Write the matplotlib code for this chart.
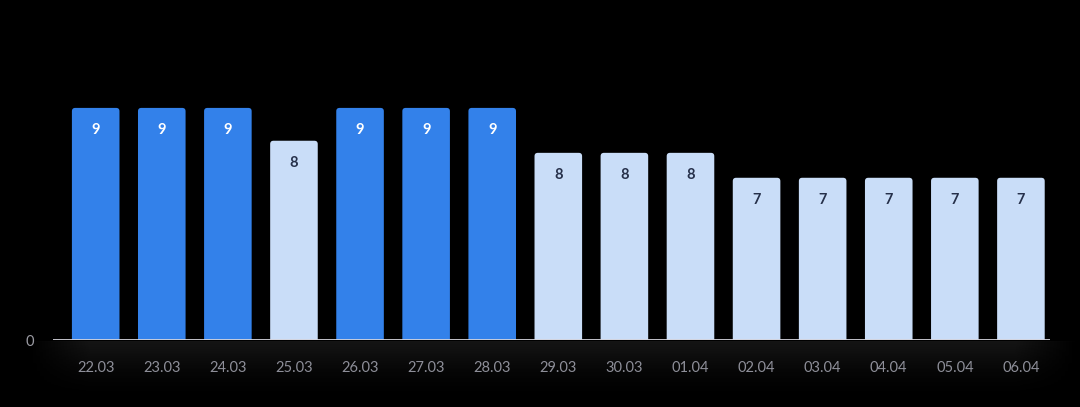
import numpy as np
import matplotlib.pyplot as plt
from matplotlib.patches import FancyBboxPatch

# data
days = ["22.03", "23.03", "24.03", "25.03", "26.03", "27.03", "28.03",
        "29.03", "30.03", "01.04", "02.04", "03.04", "04.04", "05.04", "06.04"]
values = [9.4, 9.4, 9.4, 8.07, 9.4, 9.4, 9.4,
          7.58, 7.58, 7.58, 6.57, 6.57, 6.57, 6.57, 6.57]
highlight = [True, True, True, False, True, True, True,
             False, False, False, False, False, False, False, False]

blue = "#3381ea"
light = "#c9ddf8"
W, H = 1080, 407

plt.rcParams["font.family"] = ["Lato", "DejaVu Sans"]

fig = plt.figure(figsize=(W / 100, H / 100), dpi=100, facecolor="black")

# soft dark band under the baseline
bg = fig.add_axes([0, 0, 1, 1], zorder=0)
bg.set_axis_off()
bg.set_xlim(0, W)
bg.set_ylim(H, 0)
vert = np.linspace(1, 0, 60) ** 1.5
horiz = np.clip(np.minimum(np.linspace(0, 1, 300) / 0.06, np.linspace(1, 0, 300) / 0.06), 0, 1)
grad = vert[:, None] * horiz[None, :]
bg.imshow(grad, extent=[25, 1080, 400, 341], cmap="Greys_r", vmin=0, vmax=14,
          aspect="auto", interpolation="bilinear")

left, right, base = 53, 1050, 340
ax = fig.add_axes([left / W, (H - base) / H, (right - left) / W, base / H], zorder=1)
ax.set_facecolor("none")
for s in ax.spines.values():
    s.set_visible(False)

x = np.arange(len(days))
ax.set_xlim(-0.646, 14.44)
ax.set_ylim(0, 13.77)

colors = [blue if h else light for h in highlight]
bars = ax.bar(x, values, width=0.72, color=colors)

# rounded tops
yx = (13.77 / base) / (15.086 / (right - left))
for b, c in zip(bars, colors):
    bx, by = b.get_x(), b.get_y()
    bw, bh = b.get_width(), b.get_height()
    b.set_visible(False)
    p = FancyBboxPatch((bx, by - 0.3), bw, bh + 0.3,
                       boxstyle="round,pad=0,rounding_size=0.05",
                       mutation_aspect=yx, fc=c, ec="none", zorder=2)
    ax.add_patch(p)

for xi, v, h in zip(x, values, highlight):
    ax.text(xi, v - 0.9, f"{round(v):d}", ha="center", va="center",
            fontsize=10.5, fontweight="bold",
            color="white" if h else "#26304a", zorder=3)

ax.axhline(0, color="#d4d4dc", lw=2, zorder=4)

ax.set_xticks(x)
ax.set_xticklabels(days, fontsize=10.5, color="#8e8f99")
ax.tick_params(axis="x", length=0, pad=15)
ax.set_yticks([0])
ax.set_yticklabels(["0"], fontsize=10.5, color="#9a9aa2")
ax.tick_params(axis="y", length=0, pad=14)

fig.savefig("out.png", dpi=100, facecolor="black")
